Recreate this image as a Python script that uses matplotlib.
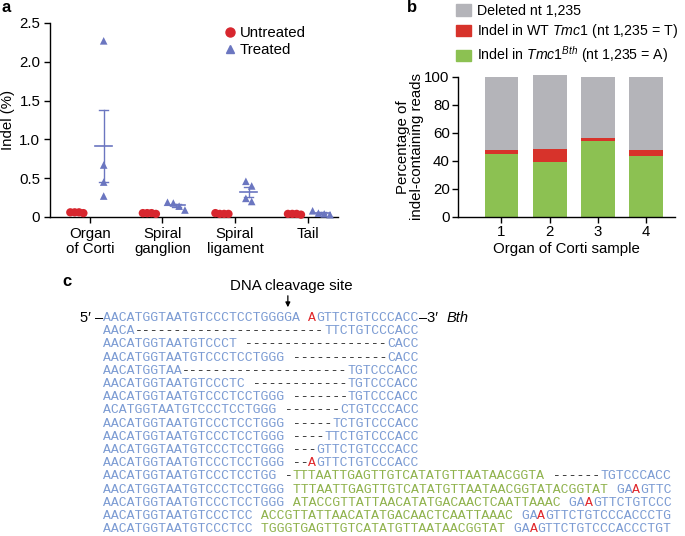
import matplotlib
matplotlib.use("Agg")
import matplotlib.pyplot as plt
import numpy as np
from matplotlib.lines import Line2D
from matplotlib.patches import Patch

plt.rcParams["font.family"] = ["Liberation Sans", "DejaVu Sans"]
plt.rcParams["mathtext.fontset"] = "custom"
plt.rcParams["mathtext.rm"] = "Liberation Sans"
plt.rcParams["mathtext.it"] = "Liberation Sans:italic"
plt.rcParams["axes.linewidth"] = 1.0

# ---- panel a data (indel %) ----
tissues = ["Organ\nof Corti", "Spiral\nganglion", "Spiral\nligament", "Tail"]
untreated = [
    [0.06, 0.06, 0.05, 0.06],
    [0.05, 0.05, 0.04, 0.05],
    [0.04, 0.04, 0.05, 0.04],
    [0.04, 0.03, 0.04, 0.04],
]
treated = [
    [2.27, 0.67, 0.45, 0.27],
    [0.19, 0.18, 0.14, 0.09],
    [0.46, 0.40, 0.24, 0.20],
    [0.08, 0.05, 0.04, 0.03],
]
a_yticks = [0, 0.5, 1.0, 1.5, 2.0, 2.5]
a_yticklabels = ["0", "0.5", "1.0", "1.5", "2.0", "2.5"]

# ---- panel b data (% of indel-containing reads) ----
samples = [1, 2, 3, 4]
indel_bth = [44.8, 39.5, 54.3, 43.3]
indel_wt = [2.8, 9.1, 1.9, 4.8]
deleted_nt = [52.4, 53.1, 43.8, 51.9]
b_labels = [
    "Deleted nt 1,235",
    r"Indel in WT $\mathit{Tmc1}$ (nt 1,235 = T)",
    r"Indel in $\mathit{Tmc1}^{\mathit{Bth}}$ (nt 1,235 = A)",
]

# ---- panel c data (aligned reads; b=blue, g=green insertion, r=red A, k=gap) ----
ref_read = [("AACATGGTAATGTCCCTCCTGGGGA ", "b"), ("A", "r"), ("GTTCTGTCCCACC", "b")]
reads = [
    [("AACA", "b"), ("-" * 24, "k"), ("TTCTGTCCCACC", "b")],
    [("AACATGGTAATGTCCCT", "b"), (" " + "-" * 18, "k"), ("CACC", "b")],
    [("AACATGGTAATGTCCCTCCTGGG", "b"), (" " + "-" * 12, "k"), ("CACC", "b")],
    [("AACATGGTAA", "b"), ("-" * 21, "k"), ("TGTCCCACC", "b")],
    [("AACATGGTAATGTCCCTC", "b"), (" " + "-" * 12, "k"), ("TGTCCCACC", "b")],
    [("AACATGGTAATGTCCCTCCTGGG", "b"), (" " + "-" * 7, "k"), ("TGTCCCACC", "b")],
    [("ACATGGTAATGTCCCTCCTGGG", "b"), (" " + "-" * 7, "k"), ("CTGTCCCACC", "b")],
    [("AACATGGTAATGTCCCTCCTGGG", "b"), (" " + "-" * 5, "k"), ("TCTGTCCCACC", "b")],
    [("AACATGGTAATGTCCCTCCTGGG", "b"), (" " + "-" * 4, "k"), ("TTCTGTCCCACC", "b")],
    [("AACATGGTAATGTCCCTCCTGGG", "b"), (" " + "-" * 3, "k"), ("GTTCTGTCCCACC", "b")],
    [("AACATGGTAATGTCCCTCCTGGG", "b"), (" " + "-" * 2, "k"), ("A", "r"), ("GTTCTGTCCCACC", "b")],
    [("AACATGGTAATGTCCCTCCTGG", "b"), (" -", "k"), ("TTTAATTGAGTTGTCATATGTTAATAACGGTA", "g"),
     (" ------", "k"), ("TGTCCCACC", "b")],
    [("AACATGGTAATGTCCCTCCTGGG", "b"), (" TTTAATTGAGTTGTCATATGTTAATAACGGTATACGGTAT", "g"),
     (" GA", "b"), ("A", "r"), ("GTTC", "b")],
    [("AACATGGTAATGTCCCTCCTGGG", "b"), (" ATACCGTTATTAACATATGACAACTCAATTAAAC", "g"),
     (" GA", "b"), ("A", "r"), ("GTTCTGTCCC", "b")],
    [("AACATGGTAATGTCCCTCC", "b"), (" ACCGTTATTAACATATGACAACTCAATTAAAC", "g"),
     (" GA", "b"), ("A", "r"), ("GTTCTGTCCCACCCTG", "b")],
    [("AACATGGTAATGTCCCTCC", "b"), (" TGGGTGAGTTGTCATATGTTAATAACGGTAT", "g"),
     (" GA", "b"), ("A", "r"), ("GTTCTGTCCCACCCTGT", "b")],
]

RED = "#d7262e"
BLUE = "#6b76c0"
seq_colors = {"b": "#7b9bd3", "g": "#8fb24c", "r": "#e0262a", "k": "#222222"}
FS = 10.8


def swarm(vals, step=0.08, tol=0.1):
    """Spread points that sit close together in y sideways, centred on 0"""
    vals = np.asarray(vals)
    order = np.argsort(vals)[::-1]
    offsets = np.zeros(len(vals))
    groups, cur = [], [order[0]]
    for i in order[1:]:
        if vals[cur[-1]] - vals[i] < tol:
            cur.append(i)
        else:
            groups.append(cur)
            cur = [i]
    groups.append(cur)
    for g in groups:
        for j, i in enumerate(g):
            offsets[i] = (j - (len(g) - 1) / 2) * step
    return offsets


def mean_sem(ax, x, vals, color):
    vals = np.asarray(vals)
    m = vals.mean()
    s = vals.std(ddof=1) / np.sqrt(len(vals))
    ax.plot([x - 0.12, x + 0.12], [m, m], color=color, lw=1.2, zorder=2)
    ax.plot([x, x], [m - s, m + s], color=color, lw=1.0, zorder=2)
    for y in (m - s, m + s):
        ax.plot([x - 0.06, x + 0.06], [y, y], color=color, lw=1.0, zorder=2)


fig = plt.figure(figsize=(6.85, 5.36), dpi=100)

# ================= panel a =================
ax_a = fig.add_axes([50 / 685, 1 - 217 / 536, 288 / 685, 194 / 536])
for i in range(len(tissues)):
    xu = i - 0.18
    xt = i + 0.19
    mean_sem(ax_a, xu, untreated[i], RED)
    mean_sem(ax_a, xt, treated[i], BLUE)
    ax_a.scatter(xu + swarm(untreated[i], step=0.06), untreated[i], s=36, marker="o",
                 color=RED, edgecolors="none", zorder=3, clip_on=False)
    ax_a.scatter(xt + swarm(treated[i]), treated[i], s=30, marker="^",
                 color=BLUE, edgecolors="none", zorder=3, clip_on=False)

ax_a.set_xlim(-0.55, 3.42)
ax_a.set_ylim(0, 2.5)
ax_a.set_xticks(range(len(tissues)))
ax_a.set_xticklabels(tissues, fontsize=FS, linespacing=1.1)
ax_a.set_yticks(a_yticks)
ax_a.set_yticklabels(a_yticklabels, fontsize=FS)
ax_a.set_ylabel("Indel (%)", fontsize=FS, labelpad=3)
ax_a.spines["top"].set_visible(False)
ax_a.spines["right"].set_visible(False)
ax_a.tick_params(direction="out", length=4, width=1.0, pad=3)

handles_a = [
    Line2D([], [], marker="o", ls="none", color=RED, markersize=6.5, label="Untreated"),
    Line2D([], [], marker="^", ls="none", color=BLUE, markersize=6, label="Treated"),
]
ax_a.legend(handles=handles_a, loc="upper left", bbox_to_anchor=(0.59, 1.0), frameon=False,
            fontsize=FS, handletextpad=0.1, handlelength=1.0, labelspacing=0.2,
            borderaxespad=0, borderpad=0.2)

# ================= panel b =================
ax_b = fig.add_axes([458 / 685, 1 - 217 / 536, 217 / 685, 140 / 536])
bottom2 = np.array(indel_bth) + np.array(indel_wt)
ax_b.bar(samples, indel_bth, width=0.7, color="#8cc152", clip_on=False)
ax_b.bar(samples, indel_wt, width=0.7, bottom=indel_bth, color="#d7332b", clip_on=False)
ax_b.bar(samples, deleted_nt, width=0.7, bottom=bottom2, color="#b4b4b9", clip_on=False)
ax_b.set_xlim(0.1, 4.6)
ax_b.set_ylim(0, 100)
ax_b.set_xticks(samples)
ax_b.set_xticklabels([str(s) for s in samples], fontsize=FS)
ax_b.set_yticks([0, 20, 40, 60, 80, 100])
ax_b.set_yticklabels(["0", "20", "40", "60", "80", "100"], fontsize=FS)
ax_b.set_ylabel("Percentage of\nindel-containing reads", fontsize=FS, labelpad=0, linespacing=1.0)
ax_b.set_xlabel("Organ of Corti sample", fontsize=FS, labelpad=2)
ax_b.spines["top"].set_visible(False)
ax_b.spines["right"].set_visible(False)
ax_b.tick_params(direction="out", length=4, width=1.0, pad=2)

handles_b = [Patch(color="#b4b4b9"), Patch(color="#d7332b"), Patch(color="#8cc152")]
fig.legend(handles_b, b_labels, loc="upper left", bbox_to_anchor=(456 / 685, 1 - 4 / 536),
           frameon=False, fontsize=10.2, handlelength=1.05, handleheight=0.85,
           handletextpad=0.4, labelspacing=0.3, borderaxespad=0, borderpad=0)

# ================= panel c =================
ax_c = fig.add_axes([0, 0, 1, 1], zorder=-1)
ax_c.set_xlim(0, 685)
ax_c.set_ylim(536, 0)
ax_c.axis("off")

x0, cw = 103.0, 7.9
y0, dy = 318.0, 13.2
mono = dict(family="Liberation Mono", fontsize=cw / 0.6 * 0.72, va="center", ha="left")


def draw_read(segments, y):
    col = 0
    for text, key in segments:
        ax_c.text(x0 + col * cw, y, text, color=seq_colors[key], **mono)
        col += len(text)
    return col


ncol = draw_read(ref_read, y0)
for k, segs in enumerate(reads):
    draw_read(segs, y0 + (k + 1) * dy)

ax_c.text(x0, y0, "5\u2032 \u2013", ha="right", va="center", fontsize=10.5)
ax_c.text(x0 + ncol * cw, y0, "\u20133\u2032", ha="left", va="center", fontsize=10.5)
ax_c.text(447, y0, "Bth", ha="left", va="center", fontsize=10.5, style="italic")

cut_x = x0 + 23.4 * cw
ax_c.text(cut_x + 3, 286, "DNA cleavage site", ha="center", va="center", fontsize=FS)
ax_c.annotate("", xy=(cut_x, 310), xytext=(cut_x, 293),
              arrowprops=dict(arrowstyle="-|>", lw=0.9, color="black", mutation_scale=7))

# panel letters
ax_c.text(1, 8, "a", fontsize=12, fontweight="bold", va="center", ha="left")
ax_c.text(407, 8, "b", fontsize=12, fontweight="bold", va="center", ha="left")
ax_c.text(62, 281, "c", fontsize=12, fontweight="bold", va="center", ha="left")

fig.savefig("out.png", dpi=100)
